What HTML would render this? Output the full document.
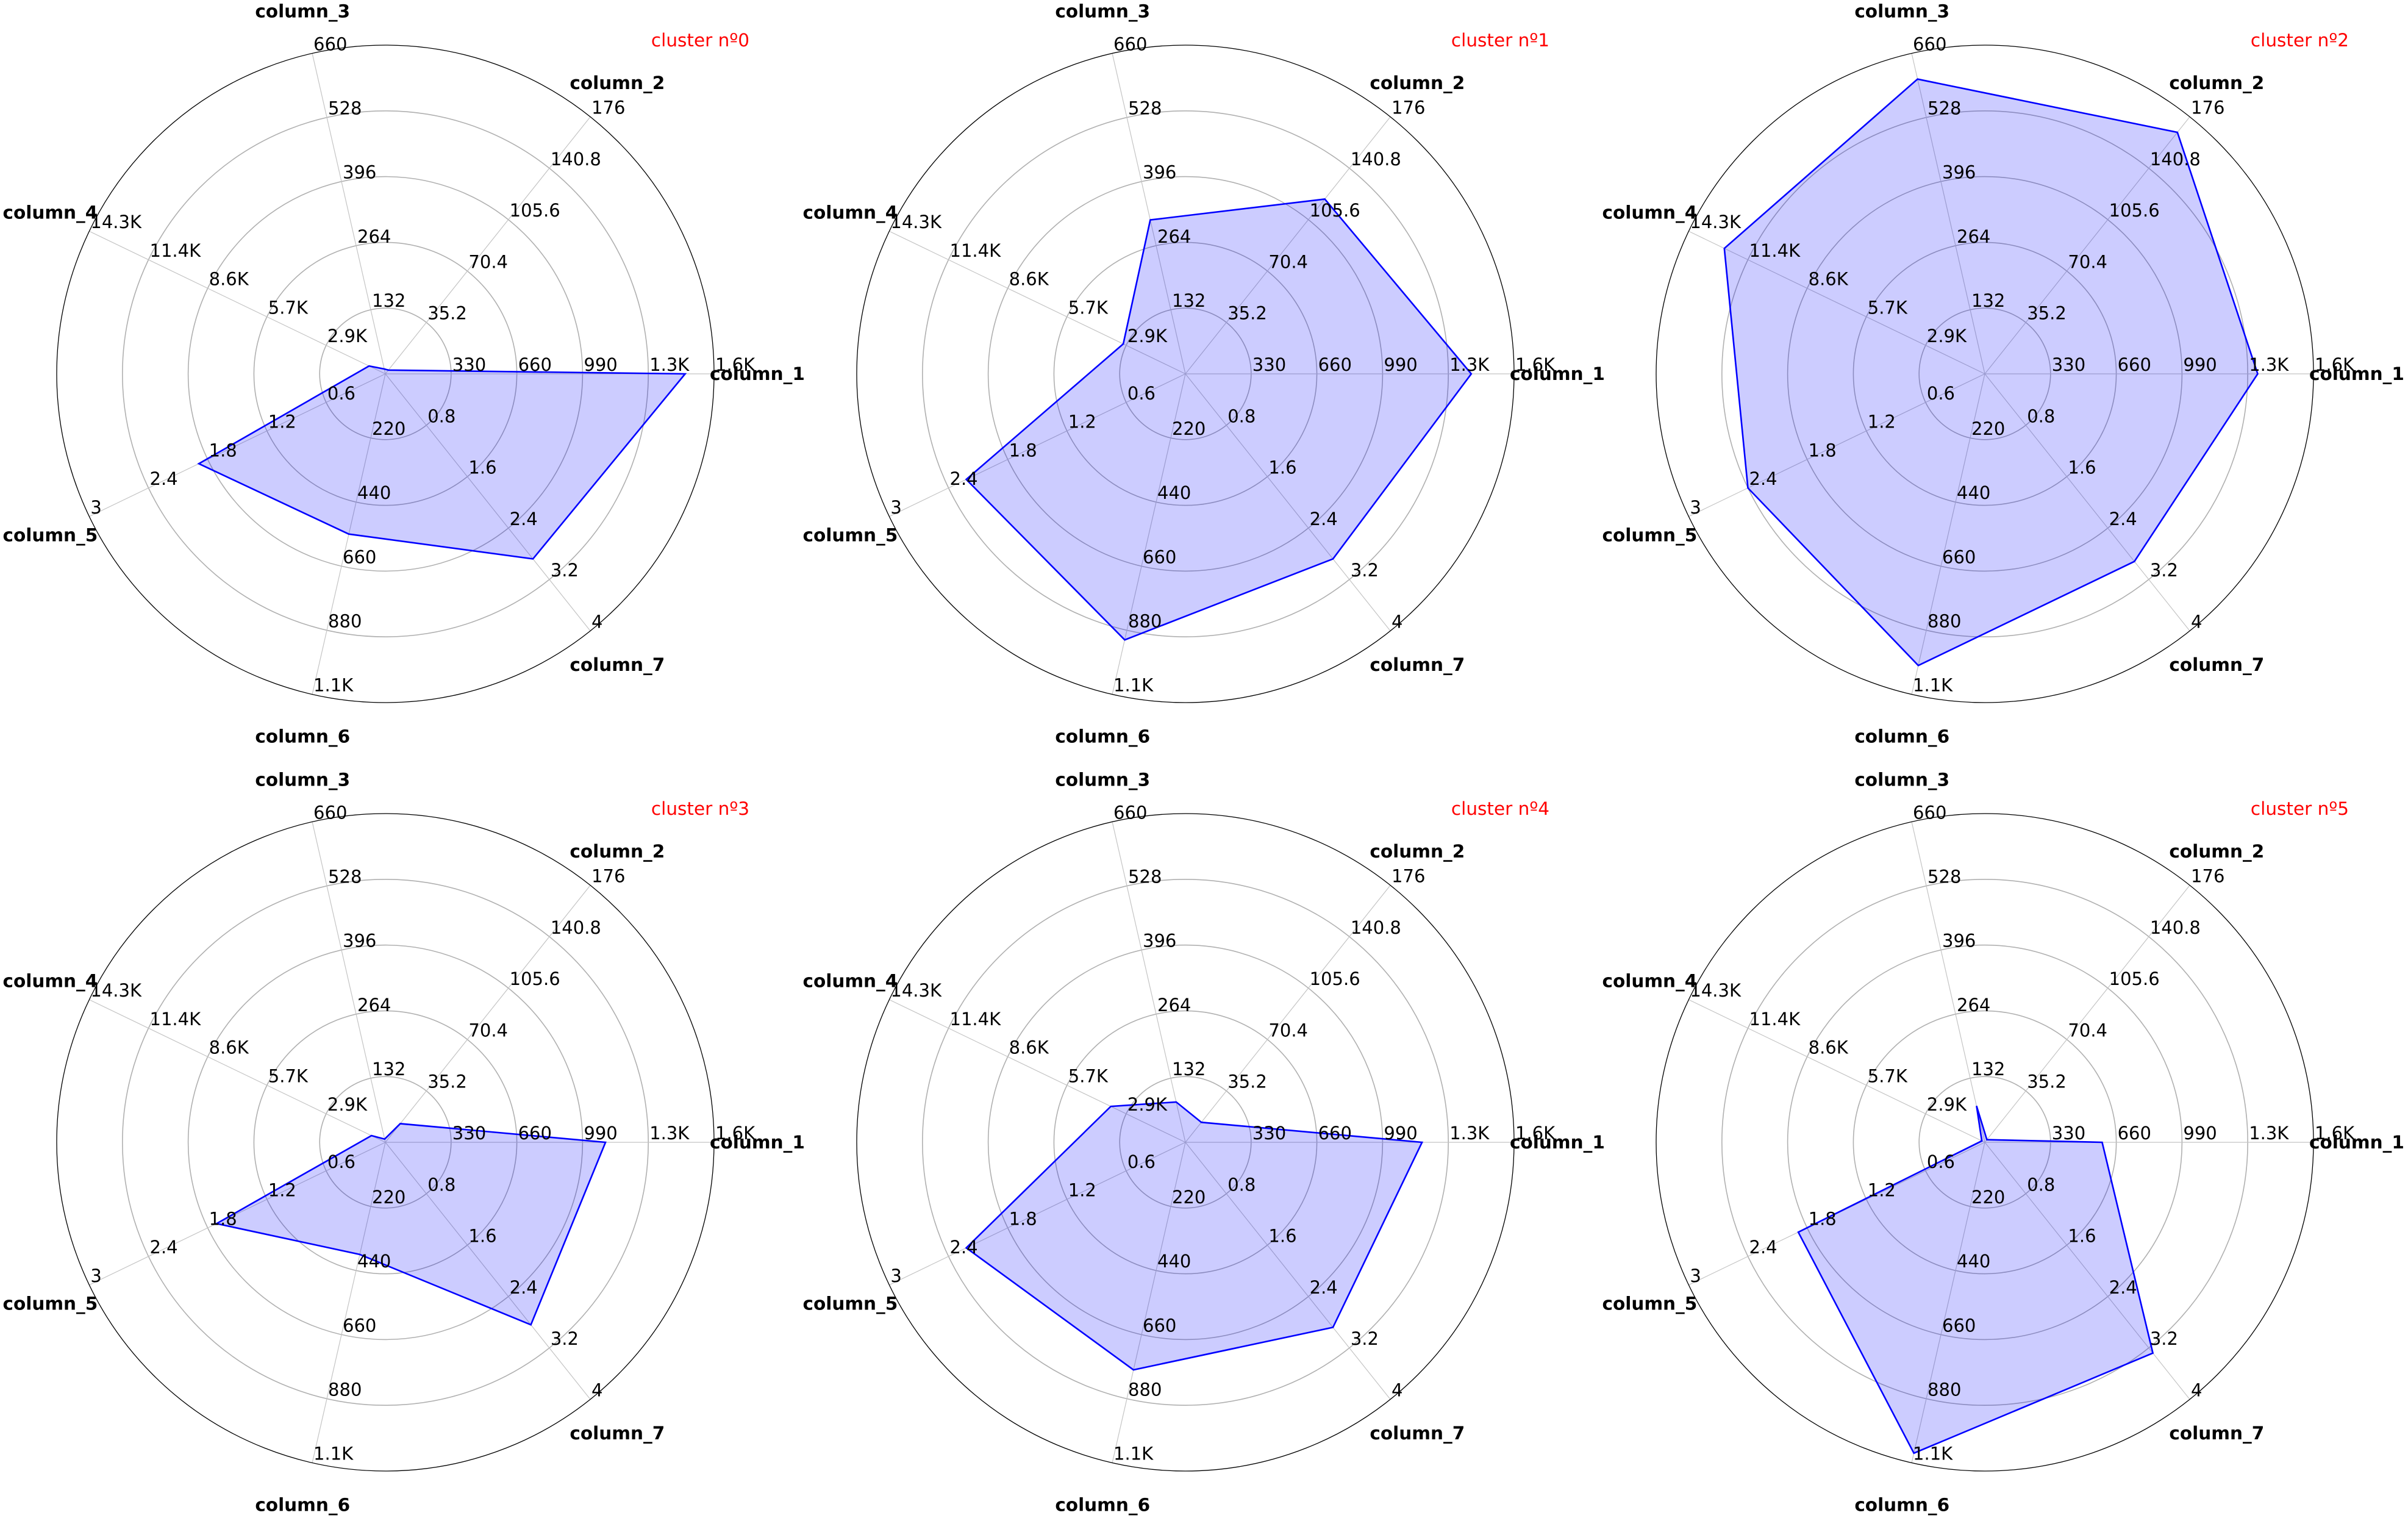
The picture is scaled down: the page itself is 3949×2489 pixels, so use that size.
<!DOCTYPE html>
<html><head><meta charset="utf-8">
<style>
html,body{margin:0;padding:0;background:#fff;}
svg{display:block;}
text{font-family:"DejaVu Sans","Liberation Sans",sans-serif;}
</style></head>
<body>
<svg id="chart" xmlns="http://www.w3.org/2000/svg" width="3949" height="2489" viewBox="0 0 3949 2489"></svg>
<script>
const axisNames = ["column_1","column_2","column_3","column_4","column_5","column_6","column_7"];
const axisMax = [1650, 176, 660, 14300, 3, 1100, 4];
const tickLabels = [
  ["330","660","990","1.3K","1.6K"],
  ["35.2","70.4","105.6","140.8","176"],
  ["132","264","396","528","660"],
  ["2.9K","5.7K","8.6K","11.4K","14.3K"],
  ["0.6","1.2","1.8","2.4","3"],
  ["220","440","660","880","1.1K"],
  ["0.8","1.6","2.4","3.2","4"]
];
const clusterTitles = ["cluster nº0","cluster nº1","cluster nº2","cluster nº3","cluster nº4","cluster nº5"];
const cluster0 = [1505, 2.6, 10, 790, 1.89, 550, 2.88];
const cluster1 = [1435, 119.7, 317, 3000, 2.22, 913, 2.88];
const cluster2 = [1370, 165.4, 607, 12580, 2.4, 1001, 2.92];
const cluster3 = [1105, 12.8, 6.6, 670, 1.71, 385, 2.84];
const cluster4 = [1188, 13.7, 83, 3600, 2.22, 781, 2.88];
const cluster5 = [589, 1.8, 75, 143, 1.89, 1067, 3.28];
const clusters = [cluster0, cluster1, cluster2, cluster3, cluster4, cluster5];

const NS = "http://www.w3.org/2000/svg";
const svg = document.getElementById("chart");
const centersX = [632, 1944, 3255];
const centersY = [613, 1873];
const R = 539;
const N = axisNames.length;

function mk(tag, attrs, parent) {
  const e = document.createElementNS(NS, tag);
  for (const k in attrs) e.setAttribute(k, attrs[k]);
  parent.appendChild(e);
  return e;
}
function angle(i) { return i * 2 * Math.PI / N; }
function rScale(i, v) { return Math.max(0, Math.min(1, v / axisMax[i])) * R; }
function pt(cx, cy, i, r) { return [cx + r * Math.cos(angle(i)), cy - r * Math.sin(angle(i))]; }

clusters.forEach((vals, c) => {
  const cx = centersX[c % 3], cy = centersY[Math.floor(c / 3)];
  const g = mk("g", {}, svg);
  
  

  for (let k = 1; k <= 4; k++) {
    const ring = mk("circle", {cx: cx, cy: cy, r: R * k / 5, fill: "none", stroke: "#b0b0b0", "stroke-width": 1.6}, g);
    
    
  }
  for (let i = 0; i < N; i++) {
    const p = pt(cx, cy, i, R);
    const sp = mk("line", {x1: cx, y1: cy, x2: p[0], y2: p[1], stroke: "#c4c4c4", "stroke-width": 1.2}, g);
    
    
  }
  const outer = mk("circle", {cx: cx, cy: cy, r: R, fill: "none", stroke: "#000", "stroke-width": 1.3}, g);
  
  

  const pts = vals.map((v, i) => pt(cx, cy, i, rScale(i, v)).map(n => n.toFixed(1)).join(",")).join(" ");
  const poly = mk("polygon", {points: pts, fill: "rgba(0,0,255,0.2)", stroke: "#0000ff", "stroke-width": 2.6, "stroke-linejoin": "miter"}, g);
  
  

  for (let i = 0; i < N; i++) {
    for (let k = 1; k <= 5; k++) {
      const p = pt(cx, cy, i, R * k / 5);
      const t = mk("text", {x: p[0] + 2, y: p[1] - 5, "font-size": 29, fill: "#000"}, g);
      t.textContent = tickLabels[i][k - 1];
      
      
    }
  }
  for (let i = 0; i < N; i++) {
    const p = pt(cx, cy, i, 610);
    const t = mk("text", {x: p[0], y: p[1] + 10, "font-size": 29.5, "font-weight": "bold", "text-anchor": "middle", fill: "#000"}, g);
    t.textContent = axisNames[i];
    
    
  }
  const title = mk("text", {x: cx + 597, y: cy - 537, "font-size": 29.5, "text-anchor": "end", fill: "#ff0000"}, g);
  title.textContent = clusterTitles[c];
  
  
});
</script>
</body></html>
